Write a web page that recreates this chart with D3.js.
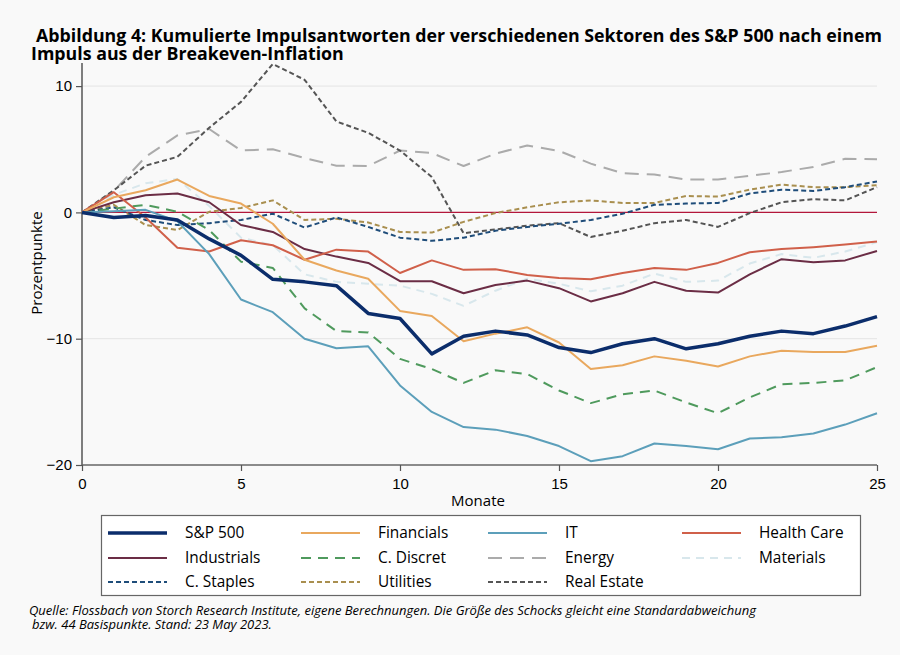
<!DOCTYPE html>
<html>
<head>
<meta charset="utf-8">
<script src="https://cdn.jsdelivr.net/npm/d3@7"></script>
<style>
  body { margin: 0; background: #f9f9f9; }
  svg { display: block; font-family: 'Open Sans', 'Noto Sans', sans-serif; }
</style>
</head>
<body>
<div id="chart"></div>
<script>
const months = [0, 1, 2, 3, 4, 5, 6, 7, 8, 9, 10, 11, 12, 13, 14, 15, 16, 17, 18, 19, 20, 21, 22, 23, 24, 25];
const xTicks = [0, 5, 10, 15, 20, 25];
const yTicks = [10, 0, -10, -20];

const sp500 = [0, -0.4, -0.25, -0.6, -2.1, -3.4, -5.3, -5.5, -5.8, -8.0, -8.4, -11.2, -9.8, -9.4, -9.7, -10.7, -11.1, -10.4, -10.0, -10.8, -10.4, -9.8, -9.4, -9.6, -9.0, -8.25];
const financials = [0, 1.2, 1.75, 2.6, 1.3, 0.7, -0.9, -3.75, -4.6, -5.25, -7.8, -8.2, -10.2, -9.6, -9.1, -10.3, -12.4, -12.1, -11.4, -11.75, -12.2, -11.4, -10.95, -11.05, -11.05, -10.55];
const it = [0, 0.1, 0.2, -0.7, -3.3, -6.9, -7.9, -10.0, -10.75, -10.6, -13.7, -15.8, -17.0, -17.2, -17.7, -18.5, -19.7, -19.3, -18.3, -18.5, -18.75, -17.9, -17.8, -17.5, -16.8, -15.9];
const healthCare = [0, 1.6, -0.4, -2.8, -3.1, -2.2, -2.6, -3.75, -2.95, -3.1, -4.8, -3.8, -4.55, -4.5, -4.95, -5.2, -5.3, -4.8, -4.4, -4.55, -4.0, -3.15, -2.9, -2.75, -2.55, -2.3];
const industrials = [0, 0.8, 1.35, 1.5, 0.8, -1.0, -1.55, -2.9, -3.5, -4.0, -5.45, -5.45, -6.4, -5.75, -5.4, -6.0, -7.05, -6.4, -5.5, -6.2, -6.35, -4.9, -3.7, -3.95, -3.8, -3.05];
const cDiscret = [0, 0.3, 0.6, 0.05, -1.4, -3.9, -4.4, -7.6, -9.4, -9.5, -11.6, -12.4, -13.5, -12.5, -12.8, -14.1, -15.1, -14.4, -14.1, -15.05, -15.9, -14.65, -13.6, -13.5, -13.3, -12.25];
const energy = [0, 1.7, 4.4, 6.1, 6.6, 4.9, 5.0, 4.3, 3.7, 3.67, 4.9, 4.7, 3.67, 4.65, 5.3, 4.87, 3.86, 3.1, 3.0, 2.6, 2.6, 2.9, 3.2, 3.6, 4.25, 4.2];
const materials = [0, 1.4, 2.3, 2.65, 0.5, -2.0, -2.6, -4.9, -5.5, -5.65, -5.8, -6.45, -7.4, -6.2, -5.25, -5.65, -6.25, -5.8, -4.85, -5.5, -5.4, -4.05, -3.3, -3.6, -3.1, -2.35];
const cStaples = [0, 0.4, -0.6, -1.0, -0.85, -0.6, -0.1, -1.2, -0.4, -1.15, -2.0, -2.25, -2.0, -1.45, -1.15, -0.9, -0.6, -0.1, 0.6, 0.7, 0.75, 1.5, 1.8, 1.7, 2.0, 2.45];
const utilities = [0, 0.6, -1.0, -1.4, 0.05, 0.35, 0.95, -0.6, -0.5, -0.8, -1.55, -1.6, -0.75, -0.05, 0.4, 0.8, 0.95, 0.75, 0.75, 1.3, 1.25, 1.8, 2.2, 2.0, 2.0, 2.15];
const realEstate = [0, 1.75, 3.7, 4.4, 6.7, 8.75, 11.75, 10.5, 7.2, 6.3, 4.9, 2.8, -1.65, -1.35, -1.05, -0.85, -1.95, -1.45, -0.85, -0.6, -1.15, -0.05, 0.8, 1.05, 0.95, 2.0];

// legend order
const seriesNames = ['S&P 500', 'Financials', 'IT', 'Health Care', 'Industrials', 'C. Discret', 'Energy', 'Materials', 'C. Staples', 'Utilities', 'Real Estate'];
const seriesValues = [sp500, financials, it, healthCare, industrials, cDiscret, energy, materials, cStaples, utilities, realEstate];
const seriesColors = ['#0b2d6b', '#e9a85e', '#5c9fba', '#d0604a', '#6b2d45', '#4f9a5d', '#ababab', '#d8e7ec', '#1f4d7a', '#a98f4f', '#555555'];
const seriesWidths = [3.5, 2, 2, 2, 2, 2, 2, 2, 2, 2, 2];
const seriesDashes = [null, null, null, null, null, '10,7', '14,8', '8,6', '5,3', '5,3', '5,3'];
// back to front
const drawOrder = [7, 6, 10, 9, 8, 5, 4, 3, 1, 2, 0];

const W = 900, H = 655;
const margin = { top: 63, left: 82, right: 23 };
const width = W - margin.left - margin.right;
const height = 465 - margin.top;

const svg = d3.select('#chart').append('svg')
  .attr('width', W)
  .attr('height', H);

svg.append('rect').attr('width', W).attr('height', H).attr('fill', '#f9f9f9');

const x = d3.scaleLinear().domain([0, 25]).range([0, width]);
const y = d3.scaleLinear().domain([-20, 10]).range([height, height - 30 * 12.63]);

const g = svg.append('g')
  .attr('transform', 'translate(' + margin.left + ',' + margin.top + ')');

const drawAxis = () => {
  // gridlines at +-10
  g.append('g')
    .selectAll('line')
    .data([10, -10])
    .enter().append('line')
    .attr('x1', 0)
    .attr('x2', width)
    .attr('y1', d => y(d))
    .attr('y2', d => y(d))
    .attr('stroke', '#e4e4e4')
    .attr('stroke-width', 1);

  const yAxis = g.append('g')
    .call(d3.axisLeft(y).tickValues(yTicks).tickSize(6).tickPadding(4).tickFormat(d3.format('d')));
  yAxis.select('.domain').remove();
  yAxis.append('line')
    .attr('x1', 0).attr('x2', 0)
    .attr('y1', 0).attr('y2', height)
    .attr('stroke', '#555').attr('stroke-width', 1.5);

  const xAxis = g.append('g')
    .attr('transform', 'translate(0,' + height + ')')
    .call(d3.axisBottom(x).tickValues(xTicks).tickSize(6).tickPadding(7));
  xAxis.select('.domain')
    .attr('d', 'M0,0H' + width)
    .attr('stroke', '#666').attr('stroke-width', 1.5);

  g.selectAll('.tick line').attr('stroke', '#555').attr('stroke-width', 1.2);
  g.selectAll('.tick text')
    .attr('fill', '#000')
    .style('font-size', '15px');

  // zero line
  g.append('line')
    .attr('x1', 0).attr('x2', width)
    .attr('y1', y(0)).attr('y2', y(0))
    .attr('stroke', '#b3173b')
    .attr('stroke-width', 1.3);

  svg.append('text')
    .attr('transform', 'translate(42,' + 263 + ') rotate(-90)')
    .attr('text-anchor', 'middle')
    .style('font-size', '15px')
    .attr('fill', '#000')
    .text('Prozentpunkte');

  svg.append('text')
    .attr('x', 478)
    .attr('y', 506)
    .attr('text-anchor', 'middle')
    .style('font-size', '15px')
    .attr('fill', '#000')
    .text('Monate');
};

const drawLine = (i) => {
  const line = d3.line()
    .x((d, j) => x(months[j]))
    .y(d => y(d));
  g.append('path')
    .datum(seriesValues[i])
    .attr('d', line)
    .attr('fill', 'none')
    .attr('stroke', seriesColors[i])
    .attr('stroke-width', seriesWidths[i])
    .attr('stroke-dasharray', seriesDashes[i])
    .attr('stroke-linejoin', 'round');
};

const drawLegend = () => {
  const legend = svg.append('g');
  legend.append('rect')
    .attr('x', 101.5).attr('y', 515.5)
    .attr('width', 759).attr('height', 80)
    .attr('fill', '#fff')
    .attr('stroke', '#666')
    .attr('stroke-width', 1.2);
  const colX = [108, 301, 488, 682];
  const rowY = [533, 558, 582];
  seriesNames.forEach((name, i) => {
    const cx = colX[i % 4], cy = rowY[Math.floor(i / 4)];
    legend.append('line')
      .attr('x1', cx).attr('x2', cx + 59)
      .attr('y1', cy).attr('y2', cy)
      .attr('stroke', seriesColors[i])
      .attr('stroke-width', seriesWidths[i])
      .attr('stroke-dasharray', seriesDashes[i]);
    legend.append('text')
      .attr('x', cx + 77)
      .attr('y', cy + 5)
      .style('font-size', '15.4px')
      .attr('fill', '#000')
      .text(name);
  });
};

const drawTitle = () => {
  svg.append('text')
    .attr('x', 36).attr('y', 42)
    .style('font-size', '17.8px')
    .style('font-weight', 'bold')
    .attr('fill', '#000')
    .text('Abbildung 4: Kumulierte Impulsantworten der verschiedenen Sektoren des S&P 500 nach einem');
  svg.append('text')
    .attr('x', 31).attr('y', 60)
    .style('font-size', '17.8px')
    .style('font-weight', 'bold')
    .attr('fill', '#000')
    .text('Impuls aus der Breakeven-Inflation');

  svg.append('text')
    .attr('x', 29).attr('y', 615)
    .style('font-size', '13px')
    .style('font-style', 'italic')
    .attr('fill', '#000')
    .text('Quelle: Flossbach von Storch Research Institute, eigene Berechnungen. Die Größe des Schocks gleicht eine Standardabweichung');
  svg.append('text')
    .attr('x', 32).attr('y', 629)
    .style('font-size', '13px')
    .style('font-style', 'italic')
    .attr('fill', '#000')
    .text('bzw. 44 Basispunkte. Stand: 23 May 2023.');
};

drawAxis();
drawOrder.forEach(i => drawLine(i));
drawLegend();
drawTitle();
</script>
</body>
</html>
